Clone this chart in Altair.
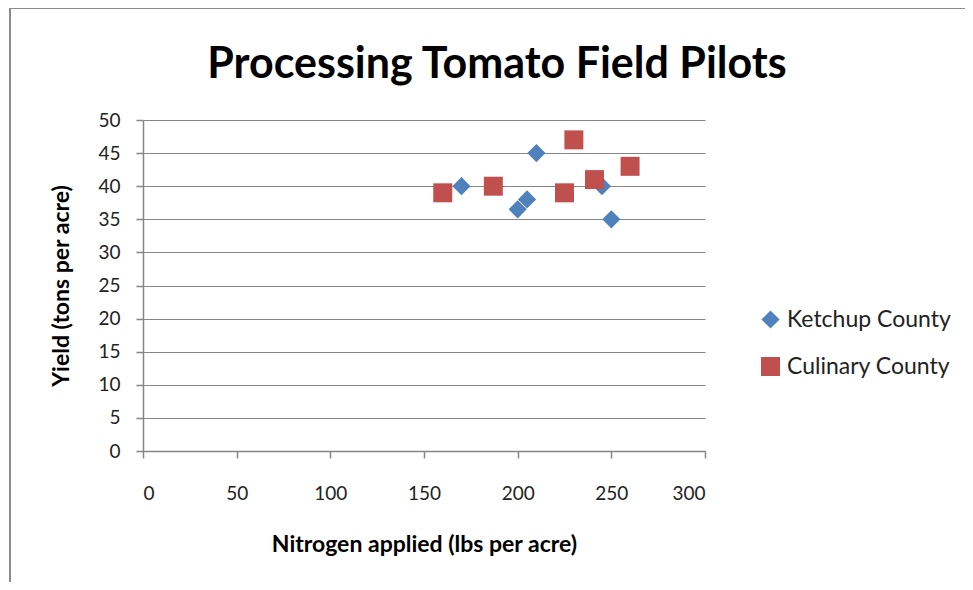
import altair as alt
import pandas as pd

ketchup_n = [170, 210, 205, 200, 245, 250]
ketchup_y = [40, 45, 38, 36.5, 40, 35]
culinary_n = [160, 187, 230, 225, 241, 260]
culinary_y = [39, 40, 47, 39, 41, 43]
series = ["Ketchup County", "Culinary County"]
x_ticks = [0, 50, 100, 150, 200, 250, 300]
y_ticks = [0, 5, 10, 15, 20, 25, 30, 35, 40, 45, 50]
title_text = "Processing Tomato Field Pilots"

rows = []
for n, y in zip(ketchup_n, ketchup_y):
    rows.append({"N": n, "Y": y, "Series": series[0]})
for n, y in zip(culinary_n, culinary_y):
    rows.append({"N": n, "Y": y, "Series": series[1]})
df = pd.DataFrame(rows)

FONT = "Lato"

points = alt.Chart(df).mark_point(filled=True, opacity=1, strokeWidth=0).encode(
    x=alt.X("N:Q", scale=alt.Scale(domain=[0, 300], nice=False),
            axis=alt.Axis(values=x_ticks, title="Nitrogen applied (lbs per acre)",
                          grid=False, tickSize=7, labelPadding=26,
                          titlePadding=30)),
    y=alt.Y("Y:Q", scale=alt.Scale(domain=[0, 50], nice=False),
            axis=alt.Axis(values=y_ticks, title="Yield (tons per acre)",
                          grid=True, tickSize=7, labelPadding=16,
                          titlePadding=24)),
    color=alt.Color("Series:N", scale=alt.Scale(domain=series, range=["#4F81BD", "#C0504D"]),
                    legend=alt.Legend(title=None, orient="none", legendX=616, legendY=188,
                                      labelFontSize=23, rowPadding=23, symbolSize=300,
                                      labelOffset=5, labelLimit=300,
                                      labelFont=FONT, labelColor="#222")),
    shape=alt.Shape("Series:N", scale=alt.Scale(domain=series, range=["diamond", "square"]),
                    legend=None),
    size=alt.Size("Series:N", scale=alt.Scale(domain=series, range=[330, 360]), legend=None),
)

frame = alt.Chart(pd.DataFrame({"a": [0]})).mark_rule(color="#8c8c8c", strokeWidth=2).encode(
    x=alt.value(-133), x2=alt.value(-133), y=alt.value(-112), y2=alt.value(465)
)
frame_top = alt.Chart(pd.DataFrame({"a": [0]})).mark_rule(color="#8c8c8c", strokeWidth=2).encode(
    x=alt.value(-133), x2=alt.value(830), y=alt.value(-112), y2=alt.value(-112)
)
title = alt.Chart(pd.DataFrame({"t": [title_text]})).mark_text(
    font=FONT, fontSize=43, fontWeight="bold", color="black", align="center",
    baseline="alphabetic"
).encode(text="t:N", x=alt.value(354), y=alt.value(-42))

chart = alt.layer(frame, frame_top, title, points).properties(
    width=562, height=331,
    autosize=alt.AutoSizeParams(type="none"),
    padding={"left": 135, "top": 112, "right": 260, "bottom": 131},
    background="white",
).configure_view(stroke=None).configure_axis(
    labelFont=FONT, labelFontSize=19, labelColor="#222",
    titleFont=FONT, titleFontSize=23, titleFontWeight="bold", titleColor="black",
    domainColor="#868686", tickColor="#868686", gridColor="#868686",
    domainWidth=1.5, gridWidth=1.2, tickWidth=1.5,
)

chart.save("out.html", embed_options={"renderer": "svg", "actions": False})
